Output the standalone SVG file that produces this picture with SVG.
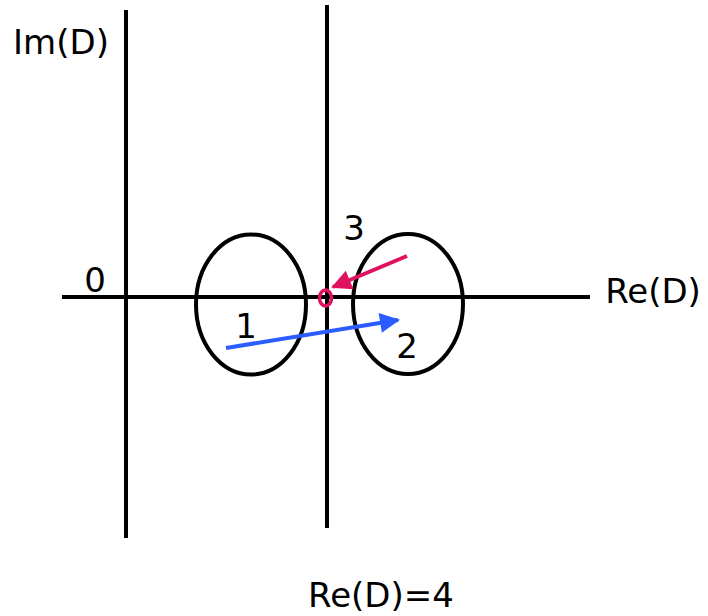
<svg xmlns="http://www.w3.org/2000/svg" width="708" height="616" viewBox="0 0 708 616">
<style>
.ax{stroke:#000;stroke-width:4;fill:none}
.t{font-family:"DejaVu Sans",Verdana,sans-serif;font-size:34px;fill:#000}
</style>
<defs>
<marker id="ab" viewBox="0 0 10 10" refX="9" refY="5" markerWidth="5.5" markerHeight="5" orient="auto" markerUnits="strokeWidth"><path d="M0,0 L10,5 L0,10 z" fill="#2a5cff"/></marker>
<marker id="ar" viewBox="0 0 10 10" refX="9" refY="5" markerWidth="5.5" markerHeight="5" orient="auto" markerUnits="strokeWidth"><path d="M0,0 L10,5 L0,10 z" fill="#e0115f"/></marker>
</defs>
<rect width="708" height="616" fill="#fff"/>
<g id="axes">
<line class="ax" x1="126" y1="10" x2="126" y2="538"/>
<line class="ax" x1="327" y1="5" x2="327" y2="528"/>
<line class="ax" x1="62" y1="297" x2="590" y2="297"/>
</g>
<g id="ellipse1"><ellipse class="ax" cx="251" cy="304.5" rx="55" ry="70"/><text class="t" x="246" y="338" text-anchor="middle">1</text></g>
<g id="ellipse2"><ellipse class="ax" cx="408" cy="304" rx="55" ry="70"/><text class="t" x="407" y="358" text-anchor="middle">2</text></g>
<g id="point3"><ellipse cx="325.5" cy="298" rx="6" ry="8" fill="none" stroke="#e0115f" stroke-width="3.5"/><text class="t" x="354" y="240" text-anchor="middle">3</text></g>
<g id="connectors">
<line x1="226" y1="348" x2="398" y2="320" stroke="#2a5cff" stroke-width="4" marker-end="url(#ab)"/>
<line x1="407" y1="256" x2="333" y2="287" stroke="#e0115f" stroke-width="4" marker-end="url(#ar)"/>
</g>
<g id="labels">
<text class="t" x="95" y="292" text-anchor="middle">0</text>
<text class="t" x="61" y="54" text-anchor="middle">Im(D)</text>
<text class="t" x="653" y="303" text-anchor="middle">Re(D)</text>
<text class="t" x="381" y="607" text-anchor="middle">Re(D)=4</text>
</g>
</svg>
